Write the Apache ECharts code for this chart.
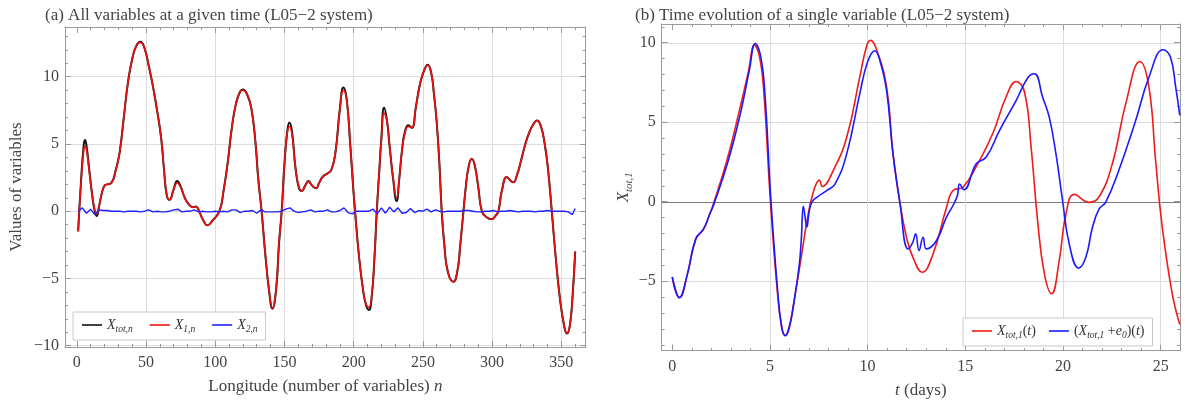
<!DOCTYPE html>
<html><head><meta charset="utf-8">
<script src="https://cdn.jsdelivr.net/npm/echarts@6/dist/echarts.min.js"></script>
<style>html,body{margin:0;padding:0;background:#fff}#c{width:1187px;height:404px}</style>
</head><body><div id="c"></div>
<script>
// ---------- Panel (a) data ----------
const leftN = [1,3,5,6,7,9,11,13,14.5,16,
 18,20,22,25,28,31,34,37,40,43,
 46,49,52,55,58,61,63,65,67,70,
 72.5,75,78,81,84,86,88,91,94.5,98,
 103,106,109,112,115,118,120,123,126,129,
 131,133.5,136,139,141.3,144,146,148,150,152,
 153.6,155.5,158,160.5,162.5,165,167.3,170,172.8,175,
 178,181,184,187,190,192.6,195,197.5,199.5,201,
 204,207,209,211,213,215,216.7,218.5,220,222,
 224,226,228.5,231,233,235,237,239.5,242,245,
 248,251,253.5,256,258,260,262,263.6,265.5,268,
 272,275,277,279.3,281,283,285.3,287.5,290,292.6,
 296,299.8,302,304.5,307,310.6,313,315.4,318,321,
 324,327,330,332.3,335,338,340.5,343.1,346,349,
 352,354,356,358,360];
const x1Vals = [-1.5,2.0,4.5,4.8,4.6,3.0,1.3,0.1,-0.2,0.3,
 1.3,1.9,2.0,2.1,3.0,4.4,7.0,9.6,11.3,12.3,
 12.55,12.1,10.8,9.3,7.5,5.4,3.1,1.2,0.85,1.6,
 2.1,1.8,1.0,0.5,0.3,0.35,0.1,-0.6,-1.05,-0.7,
 0.0,1.5,3.6,6.2,8.0,8.9,9.0,8.7,7.7,5.2,
 2.5,0.0,-3.0,-6.0,-7.2,-5.8,-2.5,0.0,3.5,5.8,
 6.3,5.7,3.2,1.8,1.5,1.9,2.2,1.9,1.7,2.1,
 2.6,2.8,3.1,4.5,7.5,9.0,8.2,5.0,2.0,0.0,
 -3.5,-6.0,-6.9,-7.15,-6.3,-3.5,0.0,3.0,5.3,7.3,
 6.7,4.8,2.5,1.0,2.5,4.6,5.8,6.3,6.2,7.8,
 9.5,10.5,10.85,10.3,8.7,6.6,3.4,0.0,-2.5,-4.5,
 -5.25,-4.4,-2.5,0.0,1.8,3.3,3.9,3.4,1.8,0.0,
 -0.45,-0.6,-0.4,0.0,1.5,2.55,2.3,2.15,2.7,3.8,
 5.0,5.9,6.5,6.75,6.4,5.0,3.0,0.0,-3.5,-6.5,
 -8.5,-9.05,-8.6,-6.5,-3.0];
const xtotVals = [-1.5,2.1,4.9,5.3,4.9,3.1,1.3,0.0,-0.35,0.3,
 1.3,1.9,2.0,2.1,3.0,4.4,7.0,9.6,11.3,12.3,
 12.6,12.1,10.8,9.3,7.5,5.4,3.1,1.2,0.85,1.65,
 2.25,1.85,1.0,0.5,0.3,0.35,0.1,-0.6,-1.05,-0.7,
 0.0,1.5,3.6,6.2,8.0,8.9,9.05,8.7,7.7,5.2,
 2.5,0.0,-3.0,-6.0,-7.25,-5.8,-2.5,0.0,3.5,5.9,
 6.6,5.9,3.2,1.7,1.5,1.9,2.25,1.9,1.7,2.1,
 2.6,2.8,3.1,4.5,7.6,9.2,8.3,5.0,2.0,0.0,
 -3.5,-6.0,-7.0,-7.35,-6.4,-3.5,0.0,3.0,5.4,7.7,
 6.8,4.8,2.4,0.75,2.5,4.6,5.9,6.4,6.2,7.8,
 9.5,10.5,10.9,10.3,8.7,6.6,3.4,0.0,-2.5,-4.5,
 -5.25,-4.4,-2.5,0.0,1.8,3.3,3.9,3.4,1.8,0.0,
 -0.45,-0.6,-0.4,0.0,1.5,2.55,2.3,2.15,2.7,3.8,
 5.0,5.9,6.5,6.75,6.4,5.0,3.0,0.0,-3.5,-6.5,
 -8.5,-9.1,-8.6,-6.5,-3.0];
const x2N = [1,4,7,10,13,16,19,22,25,28,31,34,37,40,43,46,49,52,55,58,61,64,67,70,73,76,79,82,85,88,
 91,94,97,100,103,106,109,112,115,118,121,124,127,130,133,136,139,142,145,148,151,154,157,160,163,166,169,172,175,178,
 181,184,187,190,193,196,199,202,205,208,211,214,217,220,223,226,229,232,235,238,241,244,247,250,253,256,259,262,265,268,
 271,274,277,280,283,286,289,292,295,298,301,304,307,310,313,316,319,322,325,328,331,334,337,340,343,346,349,352,355,358,360];
const x2Vals = [0.0,0.25,-0.15,0.15,-0.25,0.1,0.05,0.05,0.0,0.0,0.0,-0.05,0.0,0.0,0.0,-0.05,0.0,0.1,-0.05,0.0,-0.05,-0.05,0.0,0.1,0.15,-0.05,0.0,0.0,0.1,-0.05,
 0.0,-0.05,-0.05,0.0,-0.05,0.0,-0.05,0.1,0.1,-0.1,0.0,0.0,0.05,-0.15,0.1,-0.05,-0.05,-0.05,-0.05,0.0,0.15,0.25,0.0,-0.1,-0.05,0.0,0.1,-0.05,0.0,0.0,
 0.1,-0.05,-0.05,0.05,0.25,-0.1,-0.2,0.0,0.0,0.0,0.0,0.15,-0.2,0.25,-0.15,0.3,-0.05,0.25,-0.15,-0.1,0.2,-0.1,0.05,0.0,0.15,-0.05,0.1,0.0,-0.05,0.0,
 0.0,0.0,0.0,0.05,0.05,0.0,-0.05,-0.05,0.0,0.0,0.05,-0.05,0.0,0.0,0.05,0.0,-0.05,0.0,0.0,0.0,-0.05,0.0,0.0,0.05,0.0,0.0,0.0,0.0,-0.05,-0.25,0.2];

// ---------- Panel (b) data ----------
const redT = [0,0.37,0.77,1.2,1.6,1.9,2.12,2.8,3.45,3.9,4.21,4.45,4.67,5.02,5.36,5.6,5.78,6.0,6.2,6.63,
 6.9,7.22,7.53,7.68,8.24,8.93,9.6,9.95,10.15,10.45,10.97,11.3,11.65,12.0,12.33,12.79,13.35,14.03,14.37,14.88,
 15.56,16.41,17.09,17.6,18.03,18.37,18.7,19.05,19.42,19.81,20.15,20.58,21.34,21.85,22.53,23.21,23.94,24.4,24.74,25.08,
 25.59,25.98];
const redV = [-4.75,-6.05,-4.6,-2.4,-1.75,-0.85,-0.1,2.6,5.8,8.2,9.85,9.2,7.2,0.1,-5.4,-7.9,-8.44,-7.8,-6.5,-3.3,
 -1.2,0.6,1.35,0.95,1.95,4.05,7.85,9.8,10.15,9.6,7.2,3.0,-0.05,-2.3,-3.55,-4.45,-3.3,-0.4,0.7,0.9,
 2.2,4.3,6.6,7.56,6.9,3.4,-1.2,-4.55,-5.8,-3.7,-0.8,0.45,-0.05,0.3,2.4,6.15,8.82,7.2,2.6,-1.6,
 -5.8,-7.75];
const blueT = [0,0.37,0.77,1.2,1.6,1.9,2.15,2.85,3.5,3.95,4.25,4.5,4.72,5.05,5.38,5.6,5.8,6.0,6.2,6.5,
 6.6,6.71,6.8,6.89,7.0,7.14,7.4,7.9,8.33,8.93,9.6,10.0,10.37,10.6,10.97,11.3,11.65,12.07,12.3,12.46,
 12.63,12.84,13.01,13.52,14.03,14.37,14.6,14.71,14.93,15.56,16.07,16.75,17.6,18.2,18.54,18.96,19.3,19.64,19.98,20.32,
 20.8,21.17,21.51,21.85,22.19,22.87,23.72,24.4,25.13,25.5,25.77,25.98];
const blueV = [-4.75,-6.05,-4.6,-2.35,-1.72,-0.85,-0.1,2.5,5.6,8.3,9.95,9.3,7.2,0.1,-5.4,-7.9,-8.45,-7.9,-6.6,-4.0,
 -2.5,-0.3,-1.0,-1.6,-0.7,-0.05,0.27,0.69,1.1,3.0,6.8,8.8,9.5,9.0,7.0,3.0,-0.05,-2.98,-2.6,-2.03,
 -3.09,-2.25,-2.98,-2.47,-1.0,-0.25,0.4,1.1,0.74,2.38,2.8,4.47,6.36,7.8,8.05,6.57,5.3,3.0,0.06,-2.67,
 -4.19,-3.51,-1.62,-0.46,-0.04,2.0,5.1,7.83,9.56,9.1,7.2,5.42];

// ---------- ticks ----------
const leftXMajor = [0,50,100,150,200,250,300,350];
const leftYMajor = [-10,-5,0,5,10];
const leftXGrid = [50,100,150,200,250,300,350];
const leftYGrid = [-10,-5,0,5,10];
const rightXMajor = [0,5,10,15,20,25];
const rightYMajor = [-5,0,5,10];
const rightXGrid = [5,10,15,20,25];
const rightYGrid = [-5,0,5,10];
function minorList(a, b, step, majors){ const r=[]; for(let v=a; v<=b+1e-9; v+=step){ const x=Math.round(v*1000)/1000; if(majors.indexOf(x)<0) r.push(x);} return r; }
const leftXMinor = minorList(0,360,10,leftXMajor);
const leftYMinor = minorList(-10,13,1,leftYMajor);
const rightXMinor = minorList(0,26,1,rightXMajor);
const rightYMinor = minorList(-9,11,1,rightYMajor);

const FONT = 'Liberation Serif';
const FRAME = '#9a9a9a';
const LBL = '#444';
const L = {left:65, top:27, width:520.7, height:320, xmin:-8.5, xmax:367.6, ymin:-10.1, ymax:13.7};
const R = {left:661.7, top:24, width:518.3, height:327, xmin:-0.54, xmax:25.99, ymin:-9.38, ymax:11.18};
const fmt = v => v < 0 ? '\u2212' + (-v) : String(v);
const nameRich = {
  a:{fontFamily:FONT, fontSize:17, color:LBL, lineHeight:22},
  i:{fontFamily:FONT, fontSize:17, fontStyle:'italic', color:LBL, lineHeight:22},
  x:{fontFamily:FONT, fontSize:17, fontStyle:'italic', color:LBL, lineHeight:22},
  s:{fontFamily:FONT, fontSize:11, fontStyle:'italic', color:LBL, lineHeight:22, verticalAlign:'bottom'}
};
const legRich = {
  x:{fontFamily:FONT, fontSize:14, fontStyle:'italic', color:'#333', lineHeight:18},
  s:{fontFamily:FONT, fontSize:9.5, fontStyle:'italic', color:'#333', lineHeight:18, verticalAlign:'bottom'},
  u:{fontFamily:FONT, fontSize:14, color:'#333', lineHeight:18}
};

const grids = [];
const xAxes = [];
const yAxes = [];
function panel(P, xMaj, xMin, yMaj, yMin, xGrid, yGrid, xName, yName, xGap, yGap, zeroColor){
  const g0 = grids.length;
  for (let k=0;k<3;k++) grids.push({left:P.left, top:P.top, width:P.width, height:P.height, containLabel:false});
  const base = (pos, gi, min, max) => ({type:'value', position:pos, gridIndex:gi, min:min, max:max,
    splitLine:{show:false}, axisLine:{show:false, onZero:false}, axisLabel:{show:false}, axisTick:{show:false}, silent:true});
  const xi = xAxes.length, yi = yAxes.length;
  let a = base('bottom',g0,P.xmin,P.xmax);
  a.axisLine = {show:true, onZero:false, lineStyle:{color:FRAME, width:1}};
  a.axisTick = {show:true, inside:true, length:6, customValues:xMaj, lineStyle:{color:FRAME}};
  a.axisLabel = {show:true, customValues:xMaj, formatter:fmt, fontFamily:FONT, fontSize:16, color:LBL, margin:8};
  a.name = xName; a.nameLocation='middle'; a.nameGap=xGap; a.nameTextStyle={rich:nameRich};
  xAxes.push(a);
  a = base('top',g0,P.xmin,P.xmax);
  a.axisLine = {show:true, onZero:false, lineStyle:{color:FRAME, width:1}};
  a.axisTick = {show:true, inside:true, length:6, customValues:xMaj, lineStyle:{color:FRAME}};
  xAxes.push(a);
  a = base('bottom',g0+1,P.xmin,P.xmax);
  a.axisTick = {show:true, inside:true, length:3, customValues:xMin, lineStyle:{color:FRAME}};
  xAxes.push(a);
  a = base('top',g0+1,P.xmin,P.xmax);
  a.axisTick = {show:true, inside:true, length:3, customValues:xMin, lineStyle:{color:FRAME}};
  xAxes.push(a);
  a = base('bottom',g0+2,P.xmin,P.xmax);
  a.axisTick = {show:false, customValues:xGrid};
  a.splitLine = {show:true, lineStyle:{color:'#dcdcdc', width:1}};
  xAxes.push(a);

  a = base('left',g0,P.ymin,P.ymax);
  a.axisLine = {show:true, onZero:false, lineStyle:{color:FRAME, width:1}};
  a.axisTick = {show:true, inside:true, length:6, customValues:yMaj, lineStyle:{color:FRAME}};
  a.axisLabel = {show:true, customValues:yMaj, formatter:fmt, fontFamily:FONT, fontSize:16, color:LBL, margin:6};
  a.name = yName; a.nameLocation='middle'; a.nameGap=yGap; a.nameTextStyle={rich:nameRich};
  yAxes.push(a);
  a = base('right',g0,P.ymin,P.ymax);
  a.axisLine = {show:true, onZero:false, lineStyle:{color:FRAME, width:1}};
  a.axisTick = {show:true, inside:true, length:6, customValues:yMaj, lineStyle:{color:FRAME}};
  yAxes.push(a);
  a = base('left',g0+1,P.ymin,P.ymax);
  a.axisTick = {show:true, inside:true, length:3, customValues:yMin, lineStyle:{color:FRAME}};
  yAxes.push(a);
  a = base('right',g0+1,P.ymin,P.ymax);
  a.axisTick = {show:true, inside:true, length:3, customValues:yMin, lineStyle:{color:FRAME}};
  yAxes.push(a);
  a = base('left',g0+2,P.ymin,P.ymax);
  a.axisTick = {show:false, customValues:yGrid};
  a.splitLine = {show:true, lineStyle:{color:yGrid.map(v => v===0 ? zeroColor : '#dcdcdc'), width:1}};
  yAxes.push(a);
  return {xi:xi, yi:yi};
}
const pa = panel(L, leftXMajor, leftXMinor, leftYMajor, leftYMinor, leftXGrid, leftYGrid,
  '{a|Longitude (number of variables) }{i|n}', '{a|Values of variables}', 29, 37, '#dcdcdc');
const pb = panel(R, rightXMajor, rightXMinor, rightYMajor, rightYMinor, rightXGrid, rightYGrid,
  '{i|t}{a| (days)}', '{x|X}{s|tot,1}', 29, 22, '#7a7a7a');

const zip = (xs, ys) => xs.map((x, i) => [x, ys[i]]);
const lineS = (name, xs, ys, color, p, smooth, w) => ({
  type:'line', name:name, data:zip(xs, ys), xAxisIndex:p.xi, yAxisIndex:p.yi,
  symbol:'none', smooth:smooth, lineStyle:{color:color, width:w}, itemStyle:{color:color}, z:3, silent:true, animation:false
});

const legendNames = {
  Xtot:'{x|X}{s|tot,n}', X1:'{x|X}{s|1,n}', X2:'{x|X}{s|2,n}',
  r:'{x|X}{s|tot,1}{u|(}{x|t}{u|)}', b:'{u|(}{x|X}{s|tot,1}{u| +}{x|e}{s|0}{u|)(}{x|t}{u|)}'
};
const legendBase = {orient:'horizontal', icon:'rect', itemWidth:20, itemHeight:1.6, itemGap:12, borderColor:'#c8c8c8', borderWidth:1,
  backgroundColor:'#fff', padding:[6,8,6,9], formatter:n => legendNames[n], textStyle:{rich:legRich}, selectedMode:false};

const option = {
  animation:false,
  backgroundColor:'#fff',
  title:[
    {text:'(a) All variables at a given time (L05\u22122 system)', left:40, top:2, textStyle:{fontFamily:FONT, fontSize:17, fontWeight:'normal', color:'#444'}},
    {text:'(b) Time evolution of a single variable (L05\u22122 system)', left:630, top:2, textStyle:{fontFamily:FONT, fontSize:17, fontWeight:'normal', color:'#444'}}
  ],
  legend:[
    Object.assign({}, legendBase, {data:['Xtot','X1','X2'], left:73, top:312, itemGap:17}),
    Object.assign({}, legendBase, {data:['r','b'], left:963, top:318, itemGap:13})
  ],
  grid:grids, xAxis:xAxes, yAxis:yAxes,
  series:[
    lineS('Xtot', leftN, xtotVals, '#111', pa, 0.5, 2),
    lineS('X1', leftN, x1Vals, '#f01010', pa, 0.5, 1.6),
    lineS('X2', x2N, x2Vals, '#2020ff', pa, false, 1.4),
    lineS('r', redT, redV, '#f01a1a', pb, 0.45, 1.6),
    lineS('b', blueT, blueV, '#1a1aff', pb, 0.45, 1.6)
  ]
};
const chart = echarts.init(document.getElementById('c'), null, {renderer:'canvas'});
chart.setOption(option);
</script></body></html>
